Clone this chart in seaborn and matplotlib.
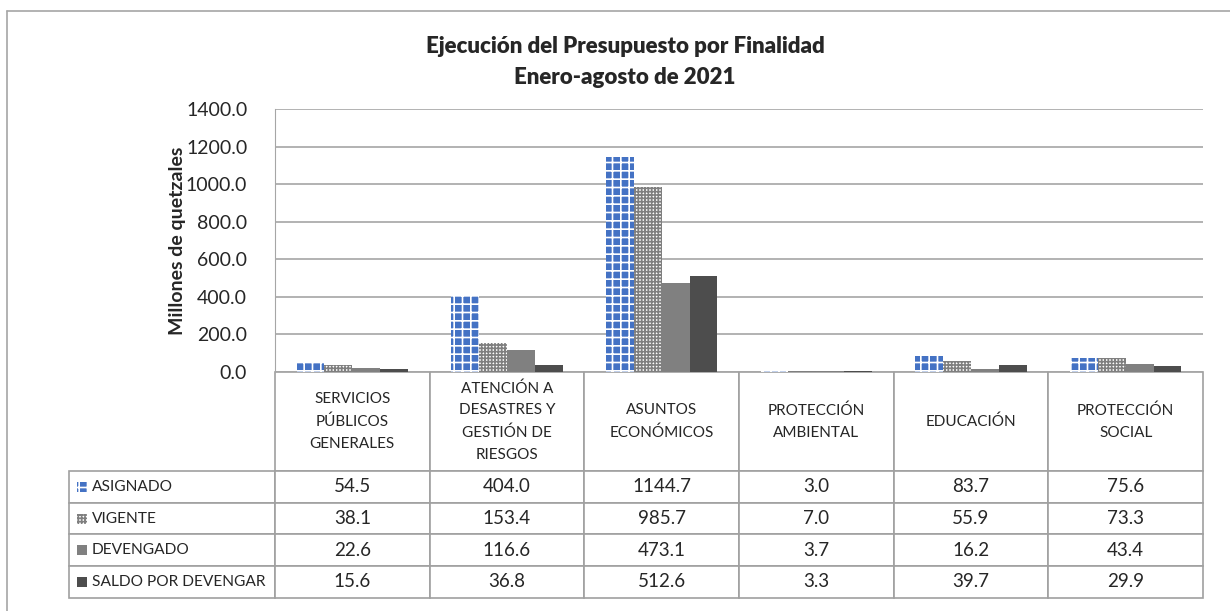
import numpy as np
import pandas as pd
import matplotlib.pyplot as plt
import seaborn as sns
from matplotlib.patches import Rectangle
from matplotlib.lines import Line2D

title_lines = ["Ejecución del Presupuesto por Finalidad", "Enero-agosto de 2021"]
categories = ["SERVICIOS\nPÚBLICOS\nGENERALES", "ATENCIÓN A\nDESASTRES Y\nGESTIÓN DE\nRIESGOS",
              "ASUNTOS\nECONÓMICOS", "PROTECCIÓN\nAMBIENTAL", "EDUCACIÓN", "PROTECCIÓN\nSOCIAL"]
series = ["ASIGNADO", "VIGENTE", "DEVENGADO", "SALDO POR DEVENGAR"]
asignado = [54.5, 404.0, 1144.7, 3.0, 83.7, 75.6]
vigente = [38.1, 153.4, 985.7, 7.0, 55.9, 73.3]
devengado = [22.6, 116.6, 473.1, 3.7, 16.2, 43.4]
saldo = [15.6, 36.8, 512.6, 3.3, 39.7, 29.9]
y_ticks = [0, 200, 400, 600, 800, 1000, 1200, 1400]

# bar styles: (face, hatch colour, hatch)
styles = {
    "ASIGNADO": ("#4472C4", "white", "++"),
    "VIGENTE": ("white", "#7F7F7F", "+++++"),
    "DEVENGADO": ("#808080", None, None),
    "SALDO POR DEVENGAR": ("#4D4D4D", None, None),
}

values = [asignado, vigente, devengado, saldo]
df = pd.DataFrame({
    "cat": np.tile(categories, len(series)),
    "serie": np.repeat(series, len(categories)),
    "valor": np.concatenate(values),
})

sns.set_style("white")
plt.rcParams["font.family"] = ["Lato", "DejaVu Sans"]
plt.rcParams["hatch.linewidth"] = 1.2

W, H = 1230, 611
fig = plt.figure(figsize=(W / 100, H / 100), dpi=100)
ax = fig.add_axes([275 / W, (H - 372) / H, 928 / W, 263 / H])

sns.barplot(data=df, x="cat", y="valor", hue="serie", order=categories, hue_order=series,
            width=0.72, gap=0, legend=False, ax=ax, saturation=1)

n = len(categories)
for i, s in enumerate(series):
    face, hc, hatch = styles[s]
    for p in ax.patches[i * n:(i + 1) * n]:
        p.set_facecolor(face)
        if hatch:
            p.set_hatch(hatch)
            p.set_edgecolor(hc)
        p.set_linewidth(0)

ax.set_xlim(-0.5, n - 0.5)
ax.set_ylim(0, 1400)
ax.set_yticks(y_ticks)
ax.set_yticklabels([f"{v:.1f}" for v in y_ticks], fontsize=14)
ax.tick_params(axis="y", length=0, pad=20)
ax.set_xticks([])
ax.set_xlabel("")
ax.set_ylabel("Millones de quetzales", fontsize=14, fontweight="bold")
ax.yaxis.set_label_coords((186 - 275) / 928, 0.5)
ax.grid(axis="y", color="#A6A6A6", linewidth=1.2)
ax.set_axisbelow(True)
for side in ["top", "right", "bottom"]:
    ax.spines[side].set_visible(False)
ax.spines["left"].set_color("#A6A6A6")

# data table under the chart (cell sizes in axes fractions)
col_w = 1 / 6
lab_w = 206 / 928
head_h = 99 / 263
row_h = 31.7 / 263
cell_text = [[f"{v:.1f}" for v in row] for row in values]
tbl = ax.table(cellText=cell_text, colLabels=categories, cellLoc="center", loc="bottom")
for i, s in enumerate(series):
    tbl.add_cell(i + 1, -1, lab_w, row_h, text=s, loc="left")
tbl.auto_set_font_size(False)
for (r, c), cell in tbl.get_celld().items():
    cell.set_edgecolor("#A0A0A0")
    cell.set_linewidth(1.2)
    cell.set_width(lab_w if c == -1 else col_w)
    cell.set_height(head_h if r == 0 else row_h)
    if r == 0:
        cell.get_text().set_fontsize(11)
        cell.get_text().set_linespacing(1.7)
    elif c == -1:
        cell.get_text().set_fontsize(11.2)
        cell.PAD = 23 / 206
    else:
        cell.get_text().set_fontsize(13.5)

# legend markers in the row label cells
for i, s in enumerate(series):
    face, hc, hatch = styles[s]
    yc = 471 + 31.7 * (i + 0.5)
    r = Rectangle(((77 - 275) / 928, (372 - yc - 5) / 263), 10 / 928, 10 / 263,
                  transform=ax.transAxes, clip_on=False, facecolor=face,
                  edgecolor=hc if hatch else face, hatch=hatch, linewidth=0)
    ax.add_patch(r)

for line, yb in zip(title_lines, [53, 84]):
    fig.text(625 / W, 1 - yb / H, line, ha="center", va="baseline",
             fontsize=16, fontweight="heavy")

# outer chart border
fig.add_artist(Line2D([7 / W, 7 / W], [1 - 11 / H, 0], transform=fig.transFigure, color="#A6A6A6", lw=1.2))
fig.add_artist(Line2D([7 / W, 1], [1 - 11 / H, 1 - 11 / H], transform=fig.transFigure, color="#A6A6A6", lw=1.2))

fig.savefig("out.png", dpi=100)
